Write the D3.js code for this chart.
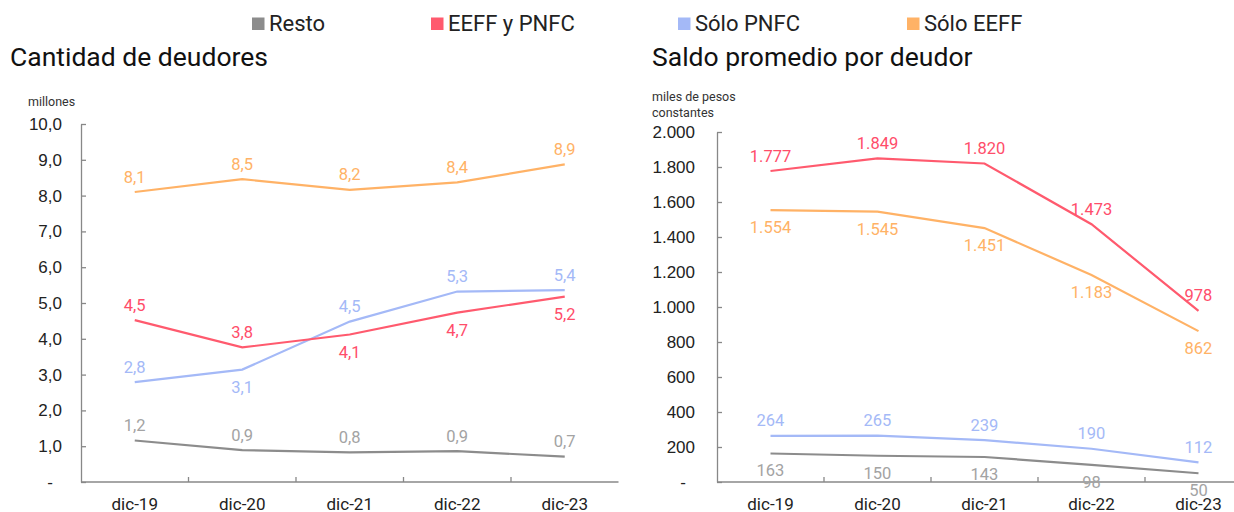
<!DOCTYPE html>
<html>
<head>
<meta charset="utf-8">
<script src="https://cdn.jsdelivr.net/npm/d3@7"></script>
<style>
  body { margin: 0; background: #fff; }
  svg { font-family: Roboto, "Noto Sans", sans-serif; }
  .axis path, .axis line { stroke: #888; stroke-width: 1.3; }
  .axis text { fill: #222; font-size: 17px; }
</style>
</head>
<body>
<svg id="chart" width="1234" height="512"></svg>
<script>
// categories
var periods = ["dic-19", "dic-20", "dic-21", "dic-22", "dic-23"];
var seriesNames = ["Resto", "EEFF y PNFC", "Sólo PNFC", "Sólo EEFF"];

// cantidad de deudores (millones)
var cantResto = [1.16, 0.89, 0.83, 0.86, 0.71];
var cantAmbos = [4.52, 3.76, 4.12, 4.73, 5.18];
var cantPnfc  = [2.79, 3.14, 4.48, 5.32, 5.36];
var cantEeff  = [8.10, 8.46, 8.16, 8.37, 8.87];

// saldo promedio por deudor (miles de pesos constantes)
var saldoResto = [163, 150, 143, 98, 50];
var saldoAmbos = [1777, 1849, 1820, 1473, 978];
var saldoPnfc  = [264, 265, 239, 190, 112];
var saldoEeff  = [1554, 1545, 1451, 1183, 862];

var colors = {
  "Resto":       { line: "#8c8c8c", text: "#a3a3a3" },
  "EEFF y PNFC": { line: "#ff5a6e", text: "#ff4d6a" },
  "Sólo PNFC":   { line: "#a4b9f7", text: "#a4b9f7" },
  "Sólo EEFF":   { line: "#ffb266", text: "#ffb266" }
};

var svg = d3.select("#chart");

/* legend */
var legendX = [252, 431, 678, 907];
var legend = svg.append("g");
seriesNames.forEach(function(name, i) {
  legend.append("rect")
    .attr("x", legendX[i]).attr("y", 17.5)
    .attr("width", 12.5).attr("height", 12.5)
    .attr("fill", colors[name].line);
  legend.append("text")
    .attr("x", legendX[i] + 17).attr("y", 31)
    .attr("font-size", 22).attr("fill", "#222")
    .text(name);
});

var commaFmt = function(v) { return d3.format(".1f")(v).replace(".", ","); };
var dotFmt = function(v) { return d3.format(",d")(v).replace(/,/g, "."); };

function panel(opt) {
  var g = svg.append("g");

  g.append("text")
    .attr("x", opt.titleX).attr("y", 66)
    .attr("font-size", 26.5).attr("fill", "#111")
    .text(opt.title);

  opt.unit.forEach(function(u, i) {
    g.append("text")
      .attr("x", opt.unitX).attr("y", opt.unitY + i * 16)
      .attr("font-size", 12.5).attr("fill", "#333")
      .text(u);
  });

  var x = d3.scaleBand()
    .domain(periods)
    .range([opt.left, opt.left + opt.band * periods.length]);

  var y = d3.scaleLinear()
    .domain([0, opt.max])
    .range([482, opt.top]);

  // y axis, ticks pointing inwards
  var yAxis = g.append("g")
    .attr("class", "axis")
    .attr("transform", "translate(" + opt.left + ",0)")
    .call(d3.axisLeft(y)
      .tickValues(d3.range(0, opt.max + opt.step / 2, opt.step))
      .tickSizeInner(-5).tickSizeOuter(0)
      .tickPadding(opt.tickPad)
      .tickFormat(function(v) { return v === 0 ? "-" : opt.tickFmt(v); }));
  yAxis.selectAll("text")
    .attr("dx", function(v) { return v === 0 ? -9 : 0; });

  // x axis with tick marks between categories
  var xg = g.append("g")
    .attr("class", "axis")
    .attr("transform", "translate(0,482)");
  xg.append("line")
    .attr("x1", opt.left).attr("x2", opt.left + opt.band * periods.length)
    .attr("y1", 0).attr("y2", 0);
  xg.selectAll(".sep")
    .data(periods.slice(1))
    .enter().append("line")
    .attr("x1", function(d) { return x(d); })
    .attr("x2", function(d) { return x(d); })
    .attr("y1", 0).attr("y2", -5);
  xg.selectAll(".lab")
    .data(periods)
    .enter().append("text")
    .attr("x", function(d) { return x(d) + x.bandwidth() / 2; })
    .attr("y", 28)
    .attr("text-anchor", "middle")
    .text(function(d) { return d; });

  var line = d3.line()
    .x(function(d, i) { return x(periods[i]) + x.bandwidth() / 2; })
    .y(function(d) { return y(d); });

  opt.series.forEach(function(s) {
    var c = colors[s.name];
    g.append("path")
      .datum(s.values)
      .attr("fill", "none")
      .attr("stroke", c.line)
      .attr("stroke-width", 2.2)
      .attr("d", line);

    g.selectAll(null)
      .data(s.values)
      .enter().append("text")
      .attr("x", function(d, i) { return x(periods[i]) + x.bandwidth() / 2; })
      .attr("y", function(d, i) {
        return y(d) + (s.pos[i] === "a" ? -9.5 : 23);
      })
      .attr("text-anchor", "middle")
      .attr("font-size", 16.5)
      .attr("fill", c.text)
      .text(function(d) { return opt.labelFmt(d); });
  });
}

panel({
  title: "Cantidad de deudores", titleX: 10,
  unit: ["millones"], unitX: 28, unitY: 106,
  left: 81, band: 107.5, top: 124, max: 10, step: 1, tickPad: 19,
  tickFmt: commaFmt, labelFmt: commaFmt,
  series: [
    { name: "Resto", values: cantResto, pos: ["a", "a", "a", "a", "a"] },
    { name: "Sólo PNFC", values: cantPnfc, pos: ["a", "b", "a", "a", "a"] },
    { name: "EEFF y PNFC", values: cantAmbos, pos: ["a", "a", "b", "b", "b"] },
    { name: "Sólo EEFF", values: cantEeff, pos: ["a", "a", "a", "a", "a"] }
  ]
});

panel({
  title: "Saldo promedio por deudor", titleX: 652,
  unit: ["miles de pesos", "constantes"], unitX: 652, unitY: 101,
  left: 717, band: 107, top: 132, max: 2000, step: 200, tickPad: 22,
  tickFmt: dotFmt, labelFmt: dotFmt,
  series: [
    { name: "Resto", values: saldoResto, pos: ["b", "b", "b", "b", "b"] },
    { name: "Sólo PNFC", values: saldoPnfc, pos: ["a", "a", "a", "a", "a"] },
    { name: "Sólo EEFF", values: saldoEeff, pos: ["b", "b", "b", "b", "b"] },
    { name: "EEFF y PNFC", values: saldoAmbos, pos: ["a", "a", "a", "a", "a"] }
  ]
});
</script>
</body>
</html>
